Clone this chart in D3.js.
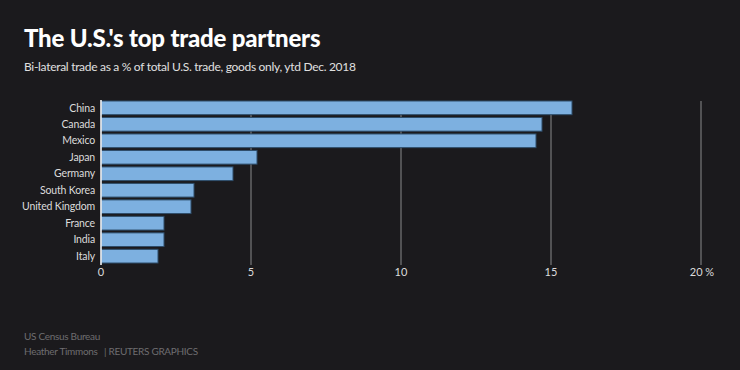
<!DOCTYPE html>
<html>
<head>
<meta charset="utf-8">
<script src="https://cdn.jsdelivr.net/npm/d3@7"></script>
<style>
  body { margin: 0; background: #1b1a1d; }
  svg { display: block; font-family: "Source Sans Pro", Lato, sans-serif; }
</style>
</head>
<body>
<svg id="chart" width="740" height="370" viewBox="0 0 740 370"></svg>
<script>
// data
const countries = ["China", "Canada", "Mexico", "Japan", "Germany", "South Korea",
  "United Kingdom", "France", "India", "Italy"];
const shares = [15.7, 14.7, 14.5, 5.2, 4.4, 3.1, 3.0, 2.1, 2.1, 1.9];
const tickValues = [0, 5, 10, 15, 20];

const svg = d3.select("#chart");
const width = 740;

svg.append("rect").attr("width", width).attr("height", 370).attr("fill", "#1b1a1d");

// title block
svg.append("text")
  .attr("x", 24).attr("y", 47)
  .attr("fill", "#ffffff")
  .attr("font-size", 24).attr("font-weight", 900)
  .attr("letter-spacing", -0.2)
  .text("The U.S.'s top trade partners");

svg.append("text")
  .attr("x", 24).attr("y", 71)
  .attr("fill", "#e0e0e0")
  .attr("font-size", 12)
  .attr("letter-spacing", -0.3)
  .text("Bi-lateral trade as a % of total U.S. trade, goods only, ytd Dec. 2018");

const x = d3.scaleLinear().domain([0, 20]).range([101, 701]);
const y = d3.scaleBand().domain(countries).range([101, 263]).paddingInner(0.17).paddingOuter(0);

// gridlines
const grid = svg.append("g");
grid.selectAll("line")
  .data(tickValues.slice(1))
  .enter()
  .append("line")
  .attr("x1", (d) => x(d)).attr("x2", (d) => x(d))
  .attr("y1", 101).attr("y2", 265)
  .attr("stroke", "#8a8a8c").attr("stroke-width", 1);

// bars
svg.append("g")
  .selectAll("rect")
  .data(countries)
  .enter()
  .append("rect")
  .attr("x", x(0))
  .attr("y", (d) => y(d))
  .attr("width", (d, i) => x(shares[i]) - x(0))
  .attr("height", y.bandwidth())
  .attr("fill", "#7db0e0")
  .attr("stroke", "#2e4d6a")
  .attr("stroke-width", 1);

// zero line
svg.append("line")
  .attr("x1", x(0)).attr("x2", x(0))
  .attr("y1", 100).attr("y2", 265)
  .attr("stroke", "#ffffff").attr("stroke-width", 1.5);

// category labels
svg.append("g")
  .selectAll("text")
  .data(countries)
  .enter()
  .append("text")
  .attr("x", 95)
  .attr("y", (d) => y(d) + y.bandwidth() / 2)
  .attr("dy", "0.35em")
  .attr("text-anchor", "end")
  .attr("fill", "#dcdcdc")
  .attr("font-size", 10.5)
  .attr("letter-spacing", -0.15)
  .text((d) => d);

// x axis labels (last one carries the unit)
svg.append("g")
  .selectAll("text")
  .data(tickValues)
  .enter()
  .append("text")
  .attr("x", (d) => (d === 20 ? x(d) + 1 : x(d)))
  .attr("y", 276)
  .attr("text-anchor", "middle")
  .attr("fill", "#dcdcdc")
  .attr("font-size", 11)
  .text((d) => (d === 20 ? d + " %" : d));

// footer
const foot = svg.append("g").attr("fill", "#6e6d70").attr("font-size", 10).attr("letter-spacing", -0.3);
foot.append("text").attr("x", 24).attr("y", 340).text("US Census Bureau");
foot.append("text").attr("x", 24).attr("y", 355).text("Heather Timmons");
foot.append("text").attr("x", 104).attr("y", 355).text("| REUTERS GRAPHICS");
</script>
</body>
</html>
